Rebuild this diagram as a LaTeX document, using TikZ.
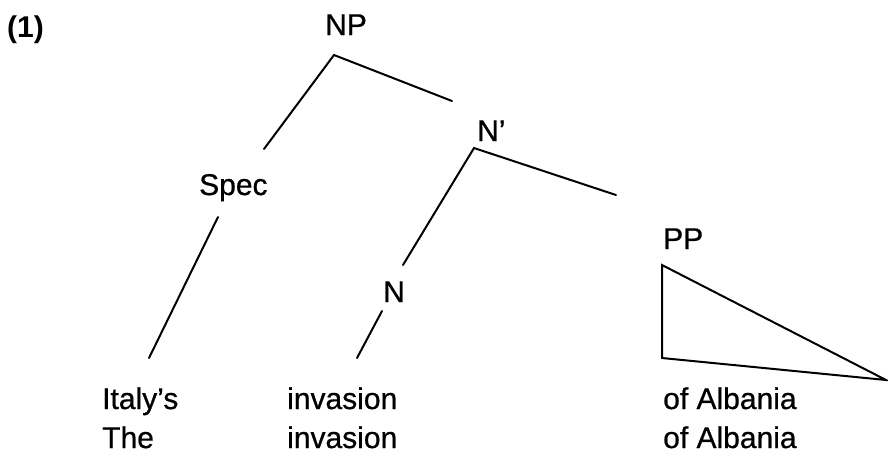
\documentclass[tikz,border=0pt]{standalone}
\usepackage{fontspec}
\setmainfont{Liberation Sans}
\newfontfamily\treefont{Liberation Sans}[Ligatures=TeX, FakeBold=0.7]
\usepackage{tikz}
\usetikzlibrary{positioning}
\tikzset{
        label/.style={inner sep=0pt, anchor=base west, font=\fontsize{30}{36}\selectfont\treefont}, % every word of the tree
        branch/.style={line width=2pt, line cap=round}, % the tree edges
        roof/.style={branch, line join=miter}, % triangle over the PP
    }

\begin{document}
\begin{tikzpicture}[x=1pt, y=-1pt]
    \useasboundingbox (0,0) rectangle (888,467);
    \node[label, font=\fontsize{30}{36}\selectfont\bfseries] (ex) at (7,37) {(1)};
    % categories
    \node[label] (np) at (325,35) {NP};
    \node[label] (nbar) at (477,141) {N'};
    \node[label] (spec) at (199,195) {Spec};
    \node[label] (pp) at (663,249) {PP};
    \node[label] (n) at (383,302) {N};
    % words
    \node[label] (italys) at (102,409) {Italy's};
    \node[label] (the) at (102,448) {The};
    \node[label] (inv1) at (287,409) {invasion};
    \node[label] (inv2) at (287,448) {invasion};
    \node[label] (alb1) at (663,409) {of Albania};
    \node[label] (alb2) at (663,448) {of Albania};
    % line ends
    \coordinate (np-top) at (334,55);
    \coordinate (np-l) at (264,149);
    \coordinate (np-r) at (452,101);
    \coordinate (nbar-top) at (474,148);
    \coordinate (nbar-l) at (403,265);
    \coordinate (nbar-r) at (616,195);
    \coordinate (spec-t) at (218,217);
    \coordinate (spec-b) at (149,358);
    \coordinate (n-t) at (382,311);
    \coordinate (n-b) at (357,358);
    \coordinate (pp-a) at (662,265);
    \coordinate (pp-b) at (662,358);
    \coordinate (pp-c) at (886,380);
    \draw[branch] (np-l) -- (np-top) -- (np-r);
    \draw[branch] (nbar-l) -- (nbar-top) -- (nbar-r);
    \draw[branch] (spec-t) -- (spec-b);
    \draw[branch] (n-t) -- (n-b);
    \draw[roof] (pp-a) -- (pp-b) -- (pp-c) -- cycle;
\end{tikzpicture}
\end{document}
